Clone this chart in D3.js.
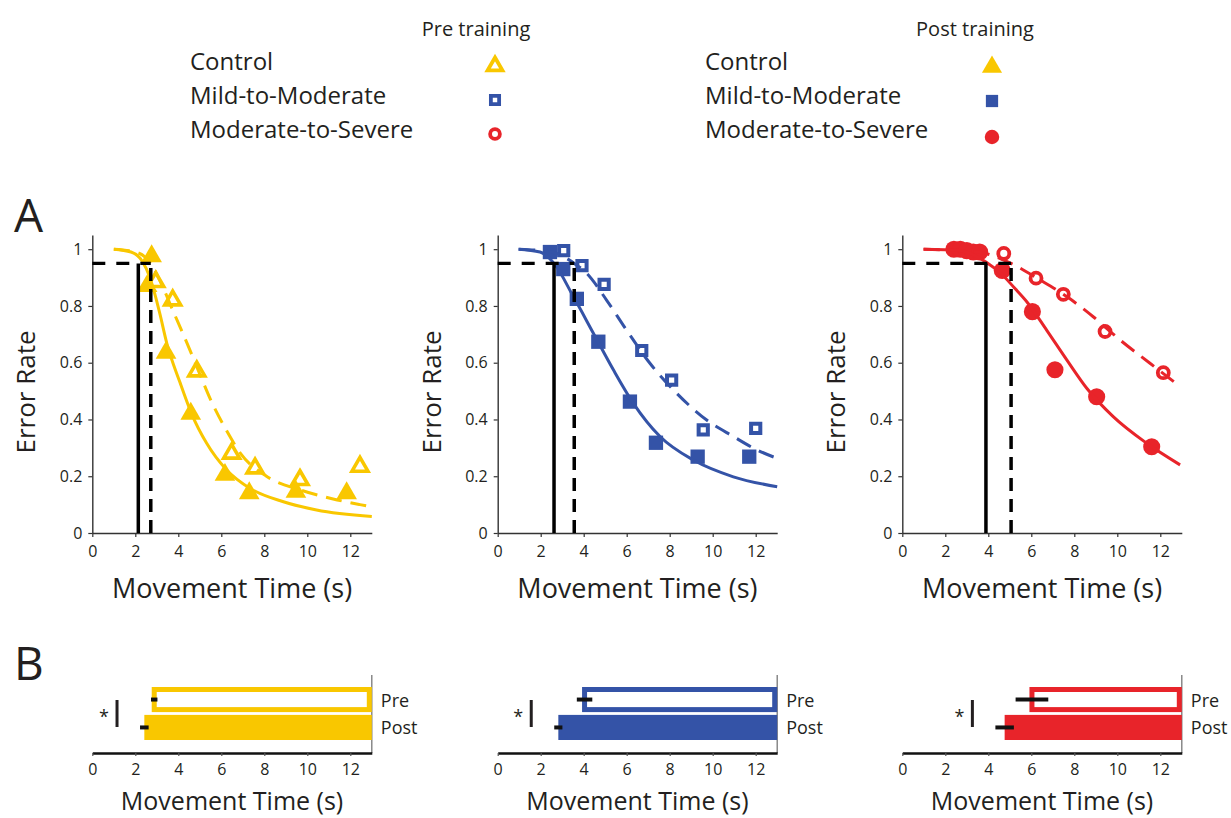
<!DOCTYPE html>
<html><head><meta charset="utf-8">
<script src="https://cdn.jsdelivr.net/npm/d3@7"></script>
<style>body{margin:0;background:#fff}svg{display:block}text{font-family:"Open Sans","Noto Sans",sans-serif;fill:#231f20}</style>
</head><body>
<svg id="chart" width="1231" height="818"></svg>
<script>
// ---------- data ----------
const groups = ["Control", "Mild-to-Moderate", "Moderate-to-Severe"];
const xTicks = [0, 2, 4, 6, 8, 10, 12];
const yTicks = [0, 0.2, 0.4, 0.6, 0.8, 1];
const barCategories = ["Pre", "Post"];

// Control
const controlPreMT   = [2.95, 3.74, 4.86, 6.48, 7.57, 9.66, 12.45];
const controlPreErr  = [0.885, 0.82, 0.57, 0.28, 0.228, 0.187, 0.234];
const controlPostMT  = [2.76, 2.55, 3.43, 4.58, 6.17, 7.3, 9.47, 11.83];
const controlPostErr = [0.975, 0.87, 0.635, 0.42, 0.205, 0.14, 0.145, 0.14];
const controlPreFitMT   = [1.0, 2.0, 2.72, 3.2, 3.77, 4.4, 5.0, 5.5, 6.25, 6.9, 8.1, 9.66, 11.2, 12.45, 13];
const controlPreFitErr  = [1.0, 0.99, 0.95, 0.88, 0.78, 0.67, 0.56, 0.47, 0.36, 0.28, 0.2, 0.152, 0.12, 0.1, 0.092];
const controlPostFitMT  = [1.0, 1.8, 2.3, 2.68, 2.95, 3.15, 3.46, 4.08, 4.62, 5.32, 6.25, 7.34, 8.89, 10.43, 13];
const controlPostFitErr = [1.0, 0.99, 0.96, 0.9, 0.83, 0.77, 0.67, 0.53, 0.42, 0.316, 0.222, 0.157, 0.11, 0.081, 0.058];

// Mild-to-Moderate
const mildPreMT   = [3.07, 3.92, 4.95, 6.7, 8.09, 9.56, 12.0];
const mildPreErr  = [0.995, 0.942, 0.876, 0.643, 0.539, 0.363, 0.369];
const mildPostMT  = [2.43, 3.05, 3.68, 4.68, 6.15, 7.36, 9.3, 11.7];
const mildPostErr = [0.99, 0.93, 0.825, 0.674, 0.463, 0.318, 0.269, 0.269];
const mildPreFitMT   = [1.0, 2.5, 3.56, 4.14, 5.07, 6.0, 7.08, 8.33, 9.72, 10.96, 12.05, 13];
const mildPreFitErr  = [1.0, 0.99, 0.95, 0.915, 0.82, 0.714, 0.598, 0.492, 0.398, 0.34, 0.293, 0.263];
const mildPostFitMT  = [0.96, 1.97, 2.62, 3.52, 4.45, 5.38, 6.31, 7.55, 9.1, 10.96, 13];
const mildPostFitErr = [1.0, 0.99, 0.95, 0.833, 0.704, 0.575, 0.457, 0.34, 0.257, 0.198, 0.163];

// Moderate-to-Severe
const severePreMT   = [4.72, 6.22, 7.49, 9.43, 12.14];
const severePreErr  = [0.985, 0.898, 0.841, 0.71, 0.565];
const severePostMT  = [2.4, 2.7, 3.0, 3.3, 3.6, 4.65, 6.05, 7.1, 9.04, 11.6];
const severePostErr = [1.0, 1.0, 0.995, 0.99, 0.99, 0.925, 0.78, 0.575, 0.48, 0.304];
const severePreFitMT   = [1.0, 3.5, 5.06, 6.4, 7.65, 8.88, 10.13, 11.52, 12.92];
const severePreFitErr  = [1.0, 0.99, 0.95, 0.892, 0.833, 0.762, 0.68, 0.598, 0.516];
const severePostFitMT  = [0.98, 2.68, 3.3, 3.89, 4.65, 5.2, 5.79, 6.72, 7.65, 8.58, 9.81, 11.37, 12.92];
const severePostFitErr = [1.0, 0.995, 0.98, 0.955, 0.91, 0.865, 0.815, 0.714, 0.61, 0.51, 0.41, 0.316, 0.24];

// 95% criterion thresholds (Panel A vertical lines)
const criterion = 0.95;
const thresholdPre  = [2.72, 3.56, 5.06];
const thresholdPost = [2.14, 2.62, 3.89];

// Panel B: mean movement time at criterion, with error
const barPre     = [2.88, 4.04, 6.03];
const barPreSE   = [0.15, 0.36, 0.76];
const barPost    = [2.42, 2.82, 4.76];
const barPostSE  = [0.2, 0.19, 0.43];

// ---------- style ----------
const colors = ["#F9C700", "#3453A7", "#E8242A"];
const symbols = [d3.symbolTriangle, d3.symbolSquare, d3.symbolCircle];
const panelLeft = [92.3, 497.7, 902.3];
const plotW = 279.5;
const aTop = 235, aBottom = 533;
const bAxisY = 753;

const svg = d3.select("#chart");

const series = [
  {pre:[controlPreMT,controlPreErr], post:[controlPostMT,controlPostErr], preFit:[controlPreFitMT,controlPreFitErr], postFit:[controlPostFitMT,controlPostFitErr]},
  {pre:[mildPreMT,mildPreErr], post:[mildPostMT,mildPostErr], preFit:[mildPreFitMT,mildPreFitErr], postFit:[mildPostFitMT,mildPostFitErr]},
  {pre:[severePreMT,severePreErr], post:[severePostMT,severePostErr], preFit:[severePreFitMT,severePreFitErr], postFit:[severePostFitMT,severePostFitErr]}
];
const zip = (a,b) => a.map((v,i)=>[v,b[i]]);

// symbol sizes
const filledSize = [185, 205, 230];
const openSize = [110, 85, 95];
const openStroke = [3.6, 4, 3.8];

// ---------- legend ----------
const legendTitleY = 36;
svg.append("text").attr("x", 476).attr("y", legendTitleY).attr("text-anchor","middle").style("font-size","20px").text("Pre training");
svg.append("text").attr("x", 975).attr("y", legendTitleY).attr("text-anchor","middle").style("font-size","20px").text("Post training");
const rowY = [62, 96, 130];
groups.forEach((g,i)=>{
  svg.append("text").attr("x",190).attr("y",rowY[i]+8).style("font-size","24px").text(g);
  svg.append("text").attr("x",705).attr("y",rowY[i]+8).style("font-size","24px").text(g);
  svg.append("path").attr("transform",`translate(495,${rowY[i]+4})`)
    .attr("d", d3.symbol().type(symbols[i]).size([95,68,75][i])())
    .attr("fill","#fff").attr("stroke",colors[i]).attr("stroke-width",3.8);
  svg.append("path").attr("transform",`translate(992,${rowY[i]+[5,5,7][i]})`)
    .attr("d", d3.symbol().type(symbols[i]).size([175,150,165][i])())
    .attr("fill",colors[i]);
});

// ---------- panel labels ----------
svg.append("text").attr("x",14).attr("y",232).style("font-size","46px").text("A");
svg.append("text").attr("x",14).attr("y",680).style("font-size","46px").text("B");

// ---------- Panel A ----------
groups.forEach((g,i)=>{
  const x = d3.scaleLinear().domain([0,13]).range([panelLeft[i], panelLeft[i]+plotW]);
  const y = d3.scaleLinear().domain([0,1.05]).range([aBottom, aTop]);
  const G = svg.append("g");

  const xa = G.append("g").attr("transform",`translate(0,${aBottom})`)
    .call(d3.axisBottom(x).tickValues(xTicks).tickSize(4).tickSizeOuter(0).tickPadding(9));
  const ya = G.append("g").attr("transform",`translate(${panelLeft[i]},0)`)
    .call(d3.axisLeft(y).tickValues(yTicks).tickFormat(d3.format("~g")).tickSize(4).tickSizeOuter(0).tickPadding(6));
  [xa,ya].forEach(a=>{
    a.select(".domain").attr("stroke","#333").attr("stroke-width",1.4);
    a.selectAll(".tick line").attr("stroke","#333").attr("stroke-width",1.2);
    a.selectAll(".tick text").style("font-size","16px").attr("fill","#231f20").style("font-family","'Open Sans',sans-serif");
  });

  // axis labels
  G.append("text").attr("x",(x(0)+x(13))/2).attr("y",598).attr("text-anchor","middle")
    .style("font-size","27px").text("Movement Time (s)");
  G.append("text").attr("transform",`translate(${panelLeft[i]-57},392) rotate(-90)`).attr("text-anchor","middle")
    .style("font-size","26px").text("Error Rate");

  const s = series[i];
  const line = d3.line().x(d=>x(d[0])).y(d=>y(d[1])).curve(d3.curveMonotoneX);

  // markers
  G.selectAll(".pre").data(zip(s.pre[0],s.pre[1])).join("path")
    .attr("transform",d=>`translate(${x(d[0])},${y(d[1])})`)
    .attr("d", d3.symbol().type(symbols[i]).size(openSize[i])())
    .attr("fill","#fff").attr("stroke",colors[i]).attr("stroke-width",openStroke[i]);
  G.selectAll(".post").data(zip(s.post[0],s.post[1])).join("path")
    .attr("transform",d=>`translate(${x(d[0])},${y(d[1])})`)
    .attr("d", d3.symbol().type(symbols[i]).size(filledSize[i])())
    .attr("fill",colors[i]);

  // fits
  G.append("path").attr("d", line(zip(s.preFit[0],s.preFit[1])))
    .attr("fill","none").attr("stroke",colors[i]).attr("stroke-width",3).attr("stroke-dasharray","16,9");
  G.append("path").attr("d", line(zip(s.postFit[0],s.postFit[1])))
    .attr("fill","none").attr("stroke",colors[i]).attr("stroke-width",3);

  // criterion lines
  G.append("line").attr("x1",x(0)).attr("x2",x(thresholdPre[i])).attr("y1",y(criterion)).attr("y2",y(criterion))
    .attr("stroke","#000").attr("stroke-width",3.2).attr("stroke-dasharray","13,11");
  G.append("line").attr("x1",x(thresholdPre[i])).attr("x2",x(thresholdPre[i])).attr("y1",y(0)).attr("y2",y(criterion))
    .attr("stroke","#000").attr("stroke-width",3.5).attr("stroke-dasharray","13,8");
  G.append("line").attr("x1",x(thresholdPost[i])).attr("x2",x(thresholdPost[i])).attr("y1",y(0)).attr("y2",y(criterion))
    .attr("stroke","#000").attr("stroke-width",3.5);
});

// ---------- Panel B ----------
groups.forEach((g,i)=>{
  const x = d3.scaleLinear().domain([0,13]).range([panelLeft[i], panelLeft[i]+plotW]);
  const yb = d3.scaleBand().domain(barCategories).range([687,740]).paddingInner(0.1);
  const G = svg.append("g");

  // right boundary line
  G.append("line").attr("x1",x(13)).attr("x2",x(13)).attr("y1",675).attr("y2",bAxisY)
    .attr("stroke","#777").attr("stroke-width",1.3);

  const sw = 5;
  // Pre bar (open)
  G.append("rect").attr("x",x(barPre[i])).attr("y",yb("Pre")+sw/2)
    .attr("width",x(13)-x(barPre[i])-sw/2).attr("height",yb.bandwidth()-sw)
    .attr("fill","#fff").attr("stroke",colors[i]).attr("stroke-width",sw);
  // Post bar (filled)
  G.append("rect").attr("x",x(barPost[i])).attr("y",yb("Post"))
    .attr("width",x(13)-x(barPost[i])).attr("height",yb.bandwidth())
    .attr("fill",colors[i]);

  // error bars
  const eb = [[barPre[i],barPreSE[i],"Pre"],[barPost[i],barPostSE[i],"Post"]];
  eb.forEach(([v,e,c])=>{
    G.append("line").attr("x1",x(v-e)).attr("x2",x(v+e))
      .attr("y1",yb(c)+yb.bandwidth()/2).attr("y2",yb(c)+yb.bandwidth()/2)
      .attr("stroke","#111").attr("stroke-width",4);
  });

  // significance marker
  const sx = x(barPost[i]-barPostSE[i]-1.07);
  G.append("line").attr("x1",sx).attr("x2",sx).attr("y1",700).attr("y2",727)
    .attr("stroke","#231f20").attr("stroke-width",3);
  G.append("text").attr("x",sx-13).attr("y",723).attr("text-anchor","middle").style("font-size","18px").text("*");

  // category labels
  barCategories.forEach(c=>{
    G.append("text").attr("x",x(13)+9).attr("y",yb(c)+yb.bandwidth()/2+7).style("font-size","18px").text(c);
  });

  const xa = G.append("g").attr("transform",`translate(0,${bAxisY})`)
    .call(d3.axisBottom(x).tickValues(xTicks).tickSize(3).tickSizeOuter(0).tickPadding(8));
  xa.select(".domain").attr("stroke","#111").attr("stroke-width",2.6);
  xa.selectAll(".tick line").attr("stroke","#555").attr("stroke-width",1.2);
  xa.selectAll(".tick text").style("font-size","16px").attr("fill","#231f20").style("font-family","'Open Sans',sans-serif");

  G.append("text").attr("x",(x(0)+x(13))/2).attr("y",810).attr("text-anchor","middle")
    .style("font-size","25px").text("Movement Time (s)");
});
</script>
</body></html>
